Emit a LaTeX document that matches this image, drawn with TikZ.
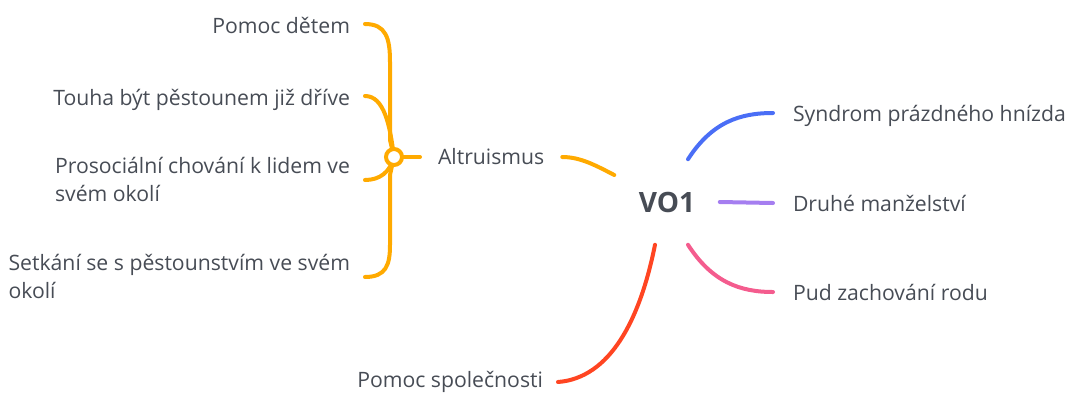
\documentclass[tikz,border=0pt]{standalone}
\usepackage{fontspec}
\setmainfont{Open Sans}
\usetikzlibrary{positioning}
\definecolor{ink}{HTML}{474C55}
\definecolor{altorange}{HTML}{FFAA00}
\definecolor{nestblue}{HTML}{4A6EF6}
\definecolor{marrpurple}{HTML}{A57EF0}
\definecolor{rodpink}{HTML}{F45C8E}
\definecolor{socred}{HTML}{FF4522}
\tikzset{
  leaf/.style={font=\fontsize{15.9}{21}\selectfont, text=ink, inner sep=0pt, align=left},
  branch/.style={line width=3pt, line cap=round},
}

\begin{document}
\begin{tikzpicture}[x=0.75pt,y=-0.75pt]
  \useasboundingbox (0,0) rectangle (1065,394);
  \coordinate (hub) at (394,157);
  \node[font=\fontsize{21}{24}\selectfont\bfseries, text=ink, inner sep=0pt, minimum width=78.75pt, minimum height=63.75pt] (vo1) at (667,202) {VO1};
  % left side
  \node[leaf, outer xsep=13.5pt, anchor=base west] (alt) at (420,164) {Altruismus};
  \node[leaf, outer xsep=11.25pt, anchor=base east] (pd) at (365,33) {Pomoc dětem};
  \node[leaf, outer xsep=11.25pt, anchor=base east] (tb) at (365,105) {Touha být pěstounem již dříve};
  \node[leaf, outer xsep=11.25pt, anchor=base east] (pc) at (365,201) {Prosociální chování k lidem ve\\svém okolí};
  \node[leaf, outer xsep=11.25pt, anchor=base east] (sp) at (365,298) {Setkání se s pěstounstvím ve svém\\okolí};
  \node[leaf, outer xsep=11.25pt, anchor=base east] (ps) at (558,387) {Pomoc společnosti};
  % right side
  \node[leaf, outer xsep=15pt, anchor=base west] (sh) at (773,121) {Syndrom prázdného hnízda};
  \node[leaf, outer xsep=15pt, anchor=base west] (dm) at (773,211) {Druhé manželství};
  \node[leaf, outer xsep=15pt, anchor=base west] (zr) at (773,300) {Pud zachování rodu};

  % brace into the hub
  \draw[branch, altorange] ([yshift=6.75pt]pd.base east) .. controls (386,24) and (390,38) .. (390,62) -- (390,140) -- (hub);
  \draw[branch, altorange] ([yshift=6.75pt]tb.base east) .. controls (384,96) and (390,125) .. (hub);
  \draw[branch, altorange] ([yshift=15.75pt]pc.base east) .. controls (380,180) and (390,172) .. (hub);
  \draw[branch, altorange] ([yshift=15.75pt]sp.base east) .. controls (386,277) and (390,265) .. (390,245) -- (390,175) -- (hub);
  \draw[branch, altorange] (hub) -- ([yshift=5.25pt]alt.base west);
  \draw[altorange, line width=3pt, fill=white] (hub) circle[radius=6pt];
  \draw[branch, altorange] ([yshift=5.25pt]alt.base east) .. controls (580,157) and (595,165) .. ([yshift=20.25pt]vo1.west);

  \draw[branch, nestblue] ([xshift=15.75pt]vo1.north) .. controls (712,122) and (740,113) .. ([yshift=6pt]sh.base west);
  \draw[branch, marrpurple] (vo1.east) -- ([yshift=6pt]dm.base west);
  \draw[branch, rodpink] ([xshift=15.75pt]vo1.south) .. controls (712,282) and (740,292) .. ([yshift=6pt]zr.base west);
  \draw[branch, socred] ([xshift=-9pt]vo1.south) .. controls (640,320) and (610,378) .. ([yshift=3.75pt]ps.base east);
\end{tikzpicture}
\end{document}
